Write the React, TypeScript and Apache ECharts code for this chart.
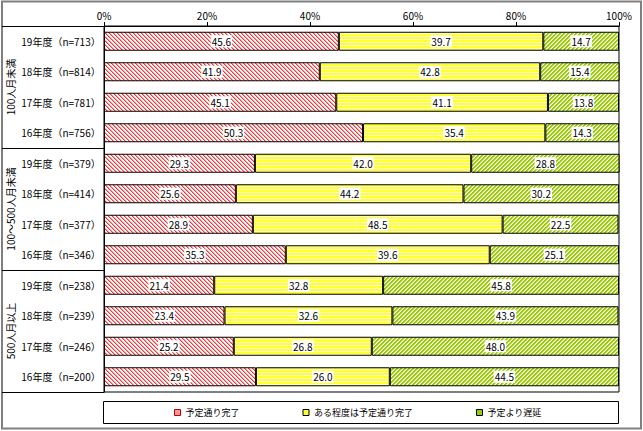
import React, { useEffect, useRef } from "react";
import * as echarts from "echarts";

const groups = ["100人月未満", "100～500人月未満", "500人月以上"];
const categories = [
  "19年度（n=713）", "18年度（n=814）", "17年度（n=781）", "16年度（n=756）",
  "19年度（n=379）", "18年度（n=414）", "17年度（n=377）", "16年度（n=346）",
  "19年度（n=238）", "18年度（n=239）", "17年度（n=246）", "16年度（n=200）",
];
const seriesNames = ["予定通り完了", "ある程度は予定通り完了", "予定より遅延"];
const onTime = [45.6, 41.9, 45.1, 50.3, 29.3, 25.6, 28.9, 35.3, 21.4, 23.4, 25.2, 29.5];
const somewhat = [39.7, 42.8, 41.1, 35.4, 42.0, 44.2, 48.5, 39.6, 32.8, 32.6, 26.8, 26.0];
const delayed = [14.7, 15.4, 13.8, 14.3, 28.8, 30.2, 22.5, 25.1, 45.8, 43.9, 48.0, 44.5];
const xTicks = [0, 20, 40, 60, 80, 100];

const FONT = "'Noto Sans CJK JP', 'Noto Sans', sans-serif";

function makePattern(w: number, h: number, fn: (x: number, y: number) => string) {
  const c = document.createElement("canvas");
  c.width = w;
  c.height = h;
  const ctx = c.getContext("2d")!;
  for (let y = 0; y < h; y++) {
    for (let x = 0; x < w; x++) {
      ctx.fillStyle = fn(x, y);
      ctx.fillRect(x, y, 1, 1);
    }
  }
  return { image: c, repeat: "repeat", imageWidth: w, imageHeight: h } as any;
}

export default function App() {
  const ref = useRef<HTMLDivElement>(null);
  useEffect(() => {
    if (!ref.current) return;
    const chart = echarts.init(ref.current, undefined, { renderer: "svg" });

    const redPat = makePattern(4, 4, (x, y) => {
      const m = (((x - y) % 4) + 4) % 4;
      return m === 0 ? "#ff3333" : m === 1 ? "#ff9e9e" : "#ffffff";
    });
    const yellowPat = makePattern(4, 3, (x, y) => (y === 0 ? "#ffffd0" : "#ffff33"));
    const greenPat = makePattern(4, 4, (x, y) => {
      const m = (x + y) % 4;
      return m === 0 || m === 1 ? "#99cc00" : m === 2 ? "#d4ea8a" : "#ffffff";
    });
    const patterns = [redPat, yellowPat, greenPat];
    const dataSets = [onTime, somewhat, delayed];
    const legendColors = ["#ff9999", "#ffff33", "#99cc00"];
    const legendBorders = ["#c00000", "#000000", "#000000"];

    const gl = 104, gr = 619, gt = 26, gb = 392;
    const band = (gb - gt) / categories.length;
    const lineStyle = { stroke: "#000", lineWidth: 1 };

    const graphics: any[] = [
      { type: "rect", shape: { x: 2, y: 1.5, width: 639, height: 427 }, style: { fill: "none", stroke: "#808080", lineWidth: 2 }, silent: true },
      { type: "line", shape: { x1: 2, y1: gt + 0.5, x2: gl, y2: gt + 0.5 }, style: lineStyle },
      { type: "line", shape: { x1: 2, y1: gb + 0.5, x2: gl, y2: gb + 0.5 }, style: lineStyle },
      { type: "rect", shape: { x: 103.5, y: 401.5, width: 515, height: 22 }, style: { fill: "#fff", stroke: "#000", lineWidth: 1 } },
    ];
    groups.forEach((g, i) => {
      const y0 = gt + i * 4 * band;
      const y1 = gt + (i + 1) * 4 * band;
      if (i > 0) {
        graphics.push({ type: "line", shape: { x1: 2, y1: Math.round(y0) + 0.5, x2: gl, y2: Math.round(y0) + 0.5 }, style: lineStyle });
      }
      graphics.push({
        type: "text",
        x: 10,
        y: (y0 + y1) / 2,
        rotation: Math.PI / 2,
        style: { text: g, fontSize: 10, fontFamily: FONT, fill: "#000", align: "center", verticalAlign: "middle" },
      });
    });

    chart.setOption({
      animation: false,
      backgroundColor: "#fff",
      textStyle: { fontFamily: FONT },
      grid: { left: gl, right: 643 - gr, top: gt, bottom: 431 - gb, show: true, borderColor: "#000", borderWidth: 1, containLabel: false },
      xAxis: {
        type: "value",
        position: "top",
        min: xTicks[0],
        max: xTicks[xTicks.length - 1],
        interval: xTicks[1] - xTicks[0],
        axisLine: { show: true, lineStyle: { color: "#000" } },
        axisTick: { show: true, length: 4, lineStyle: { color: "#000" } },
        splitLine: { show: false },
        axisLabel: { formatter: "{value}%", fontSize: 10, color: "#000", fontFamily: FONT, margin: 6 },
      },
      yAxis: {
        type: "category",
        inverse: true,
        data: categories,
        axisLine: { show: true, lineStyle: { color: "#000" } },
        axisTick: { show: false },
        axisLabel: { fontSize: 10, color: "#000", fontFamily: FONT, align: "center", margin: 43 },
      },
      legend: {
        left: 174,
        top: 408,
        itemWidth: 6,
        itemHeight: 6,
        itemGap: 63,
        padding: 0,
        icon: "rect",
        textStyle: { fontSize: 9, color: "#000", fontFamily: FONT },
        data: seriesNames.map((n, i) => ({
          name: n,
          itemStyle: { color: legendColors[i], borderColor: legendBorders[i], borderWidth: 1 },
        })),
      },
      graphic: graphics,
      series: seriesNames.map((name, i) => ({
        name,
        type: "bar",
        stack: "total",
        barWidth: 19,
        data: dataSets[i],
        itemStyle: { color: patterns[i], borderColor: "#000", borderWidth: 1 },
        label: {
          show: true,
          position: "inside",
          formatter: (p: any) => Number(p.value).toFixed(1),
          fontSize: 10,
          color: "#000",
          fontFamily: FONT,
          backgroundColor: "#fff",
          padding: [1, 1],
        },
      })),
    });
    return () => chart.dispose();
  }, []);
  return <div ref={ref} style={{ position: "fixed", left: 0, top: 0, width: 643, height: 431 }} />;
}
